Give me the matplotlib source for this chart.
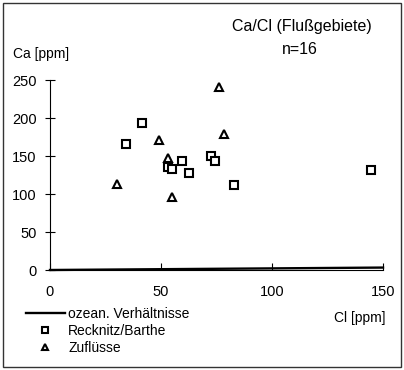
import matplotlib
matplotlib.use("Agg")
import matplotlib.pyplot as plt
from matplotlib.patches import Rectangle

plt.rcParams['font.family'] = ['Liberation Sans', 'DejaVu Sans']

# Recknitz/Barthe (Cl, Ca in ppm)
rb_cl = [34.3, 41.3, 53.0, 55.0, 59.5, 62.8, 72.6, 74.4, 82.7, 144.7]
rb_ca = [165.5, 194, 135, 133, 144, 127, 150, 144, 112, 131.6]

# Zuflüsse
zu_cl = [30.3, 49.1, 53.0, 55.1, 76.2, 78.3]
zu_ca = [113.6, 171, 148, 95.6, 241, 179]

# ozean. Verhältnisse (Ca/Cl seawater ratio)
ozean_cl = [0, 150]
ozean_ca = [0, 3.2]

xticks = [0, 50, 100, 150]
yticks = [0, 50, 100, 150, 200, 250]

fig = plt.figure(figsize=(4.04, 3.70), dpi=100)
ax = fig.add_axes([50/404, 100/370, 333/404, 190/370])

ln, = ax.plot(ozean_cl, ozean_ca, color='k', lw=1.7, clip_on=False,
              label='ozean. Verhältnisse')
sq, = ax.plot(rb_cl, rb_ca, ls='none', marker='s', ms=5.8, mfc='white',
              mec='k', mew=1.5, clip_on=False, label='Recknitz/Barthe')
tr, = ax.plot(zu_cl, zu_ca, ls='none', marker='^', ms=6, mfc='white',
              mec='k', mew=1.5, clip_on=False, label='Zuflüsse')

ax.set_xlim(0, 150)
ax.set_ylim(0, 250)
ax.set_xticks(xticks)
ax.set_yticks(yticks)
ax.spines['top'].set_visible(False)
ax.spines['right'].set_visible(False)
ax.tick_params(axis='x', direction='in', length=5, pad=11, labelsize=10.5)
ax.tick_params(axis='y', direction='inout', length=7, pad=6, labelsize=10.5)

fig.text(302/404, 1 - 26/370, 'Ca/Cl (Flußgebiete)', ha='center', va='center', fontsize=11.5)
fig.text(300/404, 1 - 50/370, 'n=16', ha='center', va='center', fontsize=11.5)
fig.text(13/404, 1 - 54/370, 'Ca [ppm]', ha='left', va='center', fontsize=10)
fig.text(385/404, 1 - 318/370, 'Cl [ppm]', ha='right', va='center', fontsize=10)

fig.legend(handles=[ln, sq, tr], loc='upper left', bbox_to_anchor=(26/404, 1 - 307/370),
           frameon=False, fontsize=10, handlelength=2.8, handletextpad=0.25,
           labelspacing=0.22, borderaxespad=0, borderpad=0, markerscale=0.8)

# frame around the whole figure
fig.add_artist(Rectangle((3/404, 3/370), 398/404, 364/370, transform=fig.transFigure,
                         fill=False, ec='#333333', lw=1))

fig.savefig('out.png', dpi=100)
